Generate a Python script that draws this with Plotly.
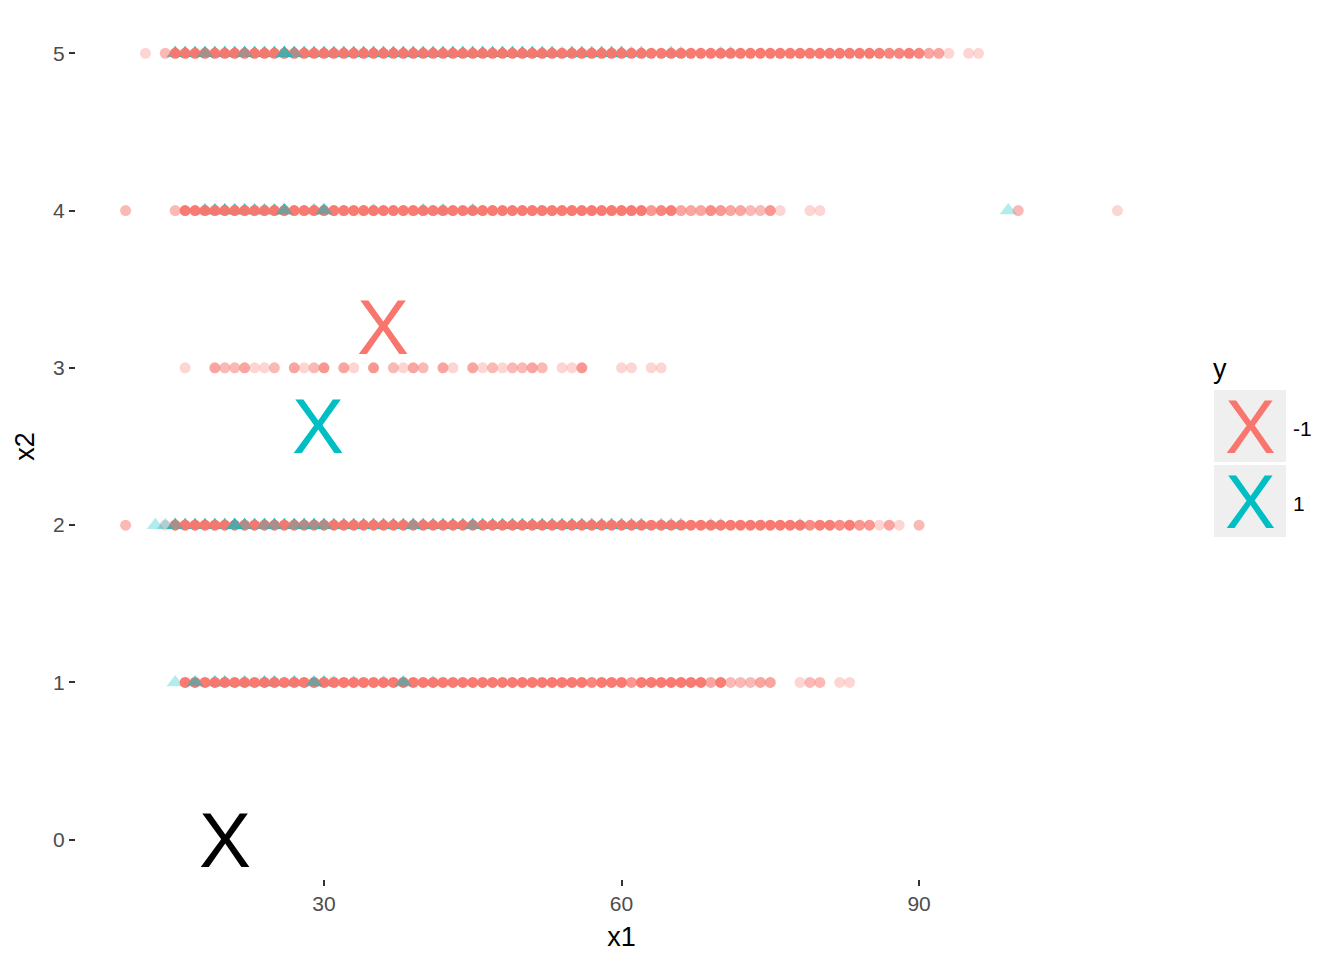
import plotly.graph_objects as go

RED = "#F8766D"
TEAL = "#00BFC4"
ALPHA = 0.3

# ---------------- data: y = -1 (circles), per x2 row: x1 values and point counts ----------------
red_x5 = [12, 14, 15, 16, 17, 18, 19, 20, 21, 22, 23, 24, 25, 26, 27, 28, 29, 30, 31, 32, 33, 34, 35, 36, 37,
          38, 39, 40, 41, 42, 43, 44, 45, 46, 47, 48, 49, 50, 51, 52, 53, 54, 55, 56, 57, 58, 59, 60, 61, 62,
          63, 64, 65, 66, 67, 68, 69, 70, 71, 72, 73, 74, 75, 76, 77, 78, 79, 80, 81, 82, 83, 84, 85, 86, 87,
          88, 89, 90, 91, 92, 93, 95, 96]
red_n5 = [1, 2, 10, 10, 10, 10, 10, 10, 10, 10, 10, 10, 10, 10, 10, 10, 10, 10, 10, 10, 10, 10, 10, 10, 10,
          10, 10, 10, 10, 10, 10, 10, 10, 10, 10, 10, 10, 10, 10, 10, 10, 10, 10, 10, 10, 10, 10, 10, 10, 10,
          10, 10, 10, 10, 10, 10, 10, 10, 10, 10, 10, 10, 10, 10, 10, 10, 10, 10, 10, 10, 10, 10, 10, 8, 6,
          6, 8, 6, 3, 3, 1, 1, 1]

red_x4 = [10, 15, 16, 17, 18, 19, 20, 21, 22, 23, 24, 25, 26, 27, 28, 29, 30, 31, 32, 33, 34, 35, 36, 37, 38,
          39, 40, 41, 42, 43, 44, 45, 46, 47, 48, 49, 50, 51, 52, 53, 54, 55, 56, 57, 58, 59, 60, 61, 62, 63,
          64, 65, 66, 67, 68, 69, 70, 71, 72, 73, 74, 75, 76, 79, 80, 100, 110]
red_n4 = [2, 2, 10, 10, 10, 10, 10, 10, 10, 10, 10, 10, 10, 10, 10, 10, 10, 10, 10, 10, 10, 10, 10, 10, 10,
          10, 10, 10, 10, 10, 10, 10, 10, 10, 10, 10, 10, 10, 10, 10, 10, 10, 10, 10, 10, 10, 10, 10, 10, 4,
          6, 8, 3, 3, 3, 5, 4, 3, 3, 2, 2, 4, 1, 1, 1, 2, 1]

red_x3 = [16, 19, 20, 21, 22, 23, 24, 25, 27, 28, 29, 30, 32, 33, 35, 37, 38, 39, 40, 42, 43, 45, 46, 47, 48,
          49, 50, 51, 52, 54, 55, 56, 60, 61, 63, 64]
red_n3 = [1, 3, 2, 2, 3, 1, 1, 2, 3, 1, 2, 4, 3, 1, 4, 2, 1, 3, 2, 3, 1, 3, 1, 2, 1,
          2, 2, 3, 2, 1, 1, 4, 1, 1, 1, 1]

red_x2 = [10, 14, 15, 16, 17, 18, 19, 20, 21, 22, 23, 24, 25, 26, 27, 28, 29, 30, 31, 32, 33, 34, 35, 36, 37,
          38, 39, 40, 41, 42, 43, 44, 45, 46, 47, 48, 49, 50, 51, 52, 53, 54, 55, 56, 57, 58, 59, 60, 61, 62,
          63, 64, 65, 66, 67, 68, 69, 70, 71, 72, 73, 74, 75, 76, 77, 78, 79, 80, 81, 82, 83, 84, 85, 86, 87,
          88, 90]
red_n2 = [2, 1, 10, 10, 10, 10, 10, 10, 10, 10, 10, 10, 10, 10, 10, 10, 10, 10, 10, 10, 10, 10, 10, 10, 10,
          10, 10, 10, 10, 10, 10, 10, 10, 10, 10, 10, 10, 10, 10, 10, 10, 10, 10, 10, 10, 10, 10, 10, 10, 10,
          10, 10, 10, 10, 10, 10, 10, 10, 10, 10, 10, 10, 10, 10, 10, 10, 5, 8, 8, 5, 8, 4, 4, 1, 3,
          1, 2]

red_x1 = [16, 17, 18, 19, 20, 21, 22, 23, 24, 25, 26, 27, 28, 29, 30, 31, 32, 33, 34, 35, 36, 37, 38, 39, 40,
          41, 42, 43, 44, 45, 46, 47, 48, 49, 50, 51, 52, 53, 54, 55, 56, 57, 58, 59, 60, 61, 62, 63, 64, 65,
          66, 67, 68, 69, 70, 71, 72, 73, 74, 75, 78, 79, 80, 82, 83]
red_n1 = [10, 10, 10, 10, 10, 10, 10, 10, 10, 10, 10, 10, 10, 10, 10, 10, 10, 10, 10, 10, 10, 10, 10, 10, 10,
          10, 10, 10, 10, 10, 10, 10, 10, 10, 10, 10, 10, 10, 10, 10, 10, 6, 10, 10, 10, 4, 10, 10, 10, 10,
          10, 10, 10, 3, 8, 2, 2, 2, 3, 3, 1, 2, 2, 1, 1]

# ---------------- data: y = 1 (triangles), drawn behind the circles ----------------
teal_x5 = [15, 16, 17, 18, 19, 20, 21, 22, 23, 24, 25, 26, 27, 28, 29, 30, 31, 32, 33, 34, 35, 36, 37, 38, 39,
           40, 41, 42, 43, 44, 45, 46, 47, 48, 49, 50, 51, 52, 53, 54, 55, 56, 57, 58, 59, 60, 61, 62, 65, 66,
           70, 71]
teal_n5 = [5, 5, 5, 5, 5, 5, 5, 5, 5, 5, 5, 5, 5, 5, 5, 5, 5, 5, 5, 5, 5, 5, 5, 5, 5,
           5, 5, 5, 5, 5, 5, 5, 5, 5, 5, 5, 5, 4, 4, 1, 4, 4, 3, 4, 4, 5, 1, 2, 2, 1,
           1, 1]
teal_x4 = [18, 19, 20, 21, 22, 23, 24, 25, 26, 29, 30, 35, 40, 42, 45, 99]
teal_n4 = [3, 4, 5, 4, 4, 3, 3, 3, 4, 2, 2, 1, 2, 2, 2, 1]
teal_x2 = [13, 15, 16, 17, 18, 19, 20, 21, 22, 23, 24, 25, 26, 27, 28, 29, 30, 31, 32, 33, 34, 35, 36, 37, 38,
           39, 40, 41, 42, 43, 44, 45, 46, 47, 48, 49, 50, 51, 52, 53, 54, 55, 56, 57, 58, 59, 60, 61, 62, 64,
           65, 66, 69, 70, 78]
teal_n2 = [1, 5, 5, 5, 5, 5, 5, 5, 5, 5, 5, 5, 5, 5, 5, 5, 5, 5, 5, 5, 5, 5, 5, 5, 5,
           5, 5, 5, 5, 5, 5, 5, 5, 5, 5, 5, 5, 5, 5, 5, 5, 5, 5, 4, 4, 4, 4, 3, 3, 2,
           2, 2, 1, 1, 1]
teal_x1 = [15, 19, 20, 22, 24, 25, 27, 30, 31, 33, 36, 41]
teal_n1 = [1, 3, 3, 3, 3, 3, 3, 3, 1, 1, 1, 1]

# triangles that come later in the data and sit on top of the circles
front_x5 = [18, 22, 26, 27]
front_n5 = [1, 1, 3, 1]
front_x4 = [26, 30]
front_n4 = [2, 2]
front_x2 = [14, 15, 21, 22, 24, 25, 27, 28, 29, 30, 39, 45]
front_n2 = [1, 1, 3, 1, 1, 1, 1, 1, 1, 1, 1, 1]
front_x1 = [17, 29, 38]
front_n1 = [2, 2, 2]

# ---------------- "X" markers ----------------
centre_x1 = [36.0, 29.4]
centre_x2 = [3.25, 2.62]
centre_y = ["-1", "1"]
query_x1 = [20.0]
query_x2 = [0.0]

legend_labels = ["-1", "1"]


def stack(rows):
    xs, ys, ops = [], [], []
    for level, xv, nv in rows:
        for x, n in zip(xv, nv):
            xs.append(x)
            ys.append(level)
            ops.append(1 - (1 - ALPHA) ** n)
    return xs, ys, ops


fig = go.Figure()

TRI = 15
CIR = 11

tx, ty, to = stack([(5, teal_x5, teal_n5), (4, teal_x4, teal_n4), (2, teal_x2, teal_n2), (1, teal_x1, teal_n1)])
fig.add_trace(go.Scatter(x=tx, y=ty, mode="markers",
                         marker=dict(symbol="triangle-up", size=TRI, color=TEAL, opacity=to, line=dict(width=0))))

rx, ry, ro = stack([(5, red_x5, red_n5), (4, red_x4, red_n4), (3, red_x3, red_n3), (2, red_x2, red_n2),
                    (1, red_x1, red_n1)])
fig.add_trace(go.Scatter(x=rx, y=ry, mode="markers",
                         marker=dict(symbol="circle", size=CIR, color=RED, opacity=ro, line=dict(width=0))))

fx, fy, fo = stack([(5, front_x5, front_n5), (4, front_x4, front_n4), (2, front_x2, front_n2),
                    (1, front_x1, front_n1)])
fig.add_trace(go.Scatter(x=fx, y=fy, mode="markers",
                         marker=dict(symbol="triangle-up", size=TRI, color=TEAL, opacity=fo, line=dict(width=0))))

XFONT = "Liberation Sans, Arial, sans-serif"
annotations = []
for cx, cy, lab in zip(centre_x1, centre_x2, centre_y):
    col = RED if lab == "-1" else TEAL
    annotations.append(dict(x=cx, y=cy, xref="x", yref="y", text="X", showarrow=False, yshift=2,
                            xanchor="center", yanchor="middle", font=dict(size=78, color=col, family=XFONT)))
for qx, qy in zip(query_x1, query_x2):
    annotations.append(dict(x=qx, y=qy, xref="x", yref="y", text="X", showarrow=False, yshift=0,
                            xanchor="center", yanchor="middle", font=dict(size=78, color="black", family=XFONT)))

# ---------------- layout ----------------
L, R, T, B = 76, 1167, 14, 879


def px(xp):
    return (xp - L) / (R - L)


def py(yp):
    return (B - yp) / (B - T)


fig.update_layout(
    width=1344, height=960,
    margin=dict(l=L, r=1344 - R, t=T, b=960 - B),
    plot_bgcolor="white", paper_bgcolor="white", showlegend=False,
    font=dict(family=XFONT),
)
fig.update_xaxes(range=[5, 115], tickvals=[30, 60, 90], ticktext=["30", "60", "90"],
                 showgrid=False, zeroline=False, showline=False,
                 ticks="outside", ticklen=6, tickwidth=2, tickcolor="#333333",
                 tickfont=dict(size=21, color="#4D4D4D"),
                 title=dict(text="x1", font=dict(size=27, color="black"), standoff=12))
fig.update_yaxes(range=[-0.25, 5.25], tickvals=[0, 1, 2, 3, 4, 5], ticktext=["0", "1", "2", "3", "4", "5"],
                 showgrid=False, zeroline=False, showline=False,
                 ticks="outside", ticklen=6, tickwidth=2, tickcolor="#333333",
                 tickfont=dict(size=21, color="#4D4D4D"),
                 title=dict(text="x2", font=dict(size=27, color="black"), standoff=10))

# manual legend
shapes = []
annotations.append(dict(x=px(1211), y=py(369), xref="paper", yref="paper", text="y", showarrow=False,
                        xanchor="left", yanchor="middle", font=dict(size=27, color="black")))
key_tops = [390, 465]
for i, (lab, col) in enumerate(zip(legend_labels, [RED, TEAL])):
    t = key_tops[i]
    shapes.append(dict(type="rect", xref="paper", yref="paper", x0=px(1214), x1=px(1286), y0=py(t + 72),
                       y1=py(t), fillcolor="#EFEFEF", line=dict(width=0), layer="below"))
    annotations.append(dict(x=px(1250), y=py(t + 36), xref="paper", yref="paper", text="X", showarrow=False,
                            xanchor="center", yanchor="middle", font=dict(size=76, color=col)))
    annotations.append(dict(x=px(1291), y=py(t + 38), xref="paper", yref="paper", text=lab, showarrow=False,
                            xanchor="left", yanchor="middle", font=dict(size=21, color="black")))
fig.update_layout(shapes=shapes, annotations=annotations)

fig.write_html("out.html")
